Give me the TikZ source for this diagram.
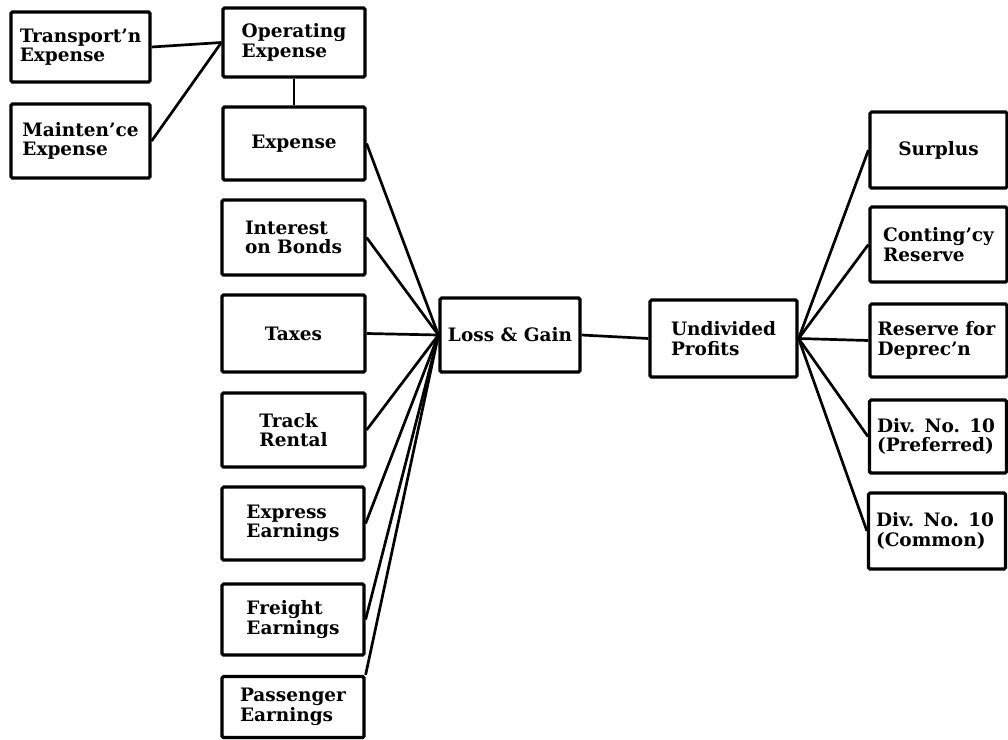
\documentclass[tikz,border=0pt]{standalone}
\usepackage{fontspec}
\setmainfont{DejaVu Serif}
\begin{document}
\begin{tikzpicture}[x=1pt,y=-1pt,
  bx/.style={draw, line width=3.2pt, rounded corners=1.5pt, inner sep=0pt,
    align=left, font=\fontsize{18.5}{19.5}\selectfont\bfseries},
  ln/.style={line width=2.7pt}]
\useasboundingbox (0,0) rectangle (1008,739);
% left column
\node[bx, minimum width=139pt, minimum height=70pt] (tr) at (80.5,47) {\mbox{Transport'n}\\Expense};
\node[bx, minimum width=139pt, minimum height=74pt] (mt) at (80.5,141) {\mbox{Mainten'ce}\\Expense};
\node[bx, minimum width=142pt, minimum height=69pt] (op) at (294,42.5) {Operating\\Expense};
\node[bx, minimum width=142pt, minimum height=73pt] (ex) at (294,143.5) {Expense};
\node[bx, minimum width=143pt, minimum height=75pt] (ib) at (293.5,237.5) {Interest\\on Bonds};
\node[bx, minimum width=143pt, minimum height=77pt] (tx) at (293.5,333.5) {Taxes};
\node[bx, minimum width=143pt, minimum height=74pt] (trk) at (293.5,430) {Track\\Rental};
\node[bx, minimum width=142pt, minimum height=73pt] (exe) at (293,523.5) {Express\\Earnings};
\node[bx, minimum width=142pt, minimum height=71pt] (fr) at (293,619.5) {Freight\\Earnings};
\node[bx, minimum width=142pt, minimum height=61pt] (pa) at (293,707) {Passenger\\Earnings};
% middle
\node[bx, minimum width=140pt, minimum height=74pt] (lg) at (510,335) {\mbox{Loss \& Gain}};
\node[bx, minimum width=147pt, minimum height=77pt] (up) at (723.5,338.5) {Undivided\\Profits};
% right column
\node[bx, minimum width=137pt, minimum height=76pt] (su) at (938.5,150) {Surplus};
\node[bx, minimum width=137pt, minimum height=75pt] (cr) at (938.5,244.5) {\mbox{Conting'cy}\\Reserve};
\node[bx, minimum width=137pt, minimum height=73pt, text width=122pt] (rd) at (938.5,340.5) {\mbox{Reserve for}\\Deprec'n};
\node[bx, minimum width=137pt, minimum height=73pt, text width=122pt] (dp) at (938,436.5) {\mbox{Div. No. 10}\\(Preferred)};
\node[bx, minimum width=137pt, minimum height=76pt, text width=122pt] (dc) at (937,531) {\mbox{Div. No. 10}\\(Common)};
% connectors
\draw[ln] (tr.east) -- (op.west);
\draw[ln] (mt.east) -- (op.west);
\draw[ln] (op.south) -- (ex.north);
\foreach \n in {ex,ib,tx,trk,exe,fr} \draw[ln] (\n.east) -- (lg.west);
\draw[ln] (pa.north east) -- (lg.west);
\draw[ln] (lg.east) -- (up.west);
\foreach \n in {su,cr,rd,dp,dc} \draw[ln] (up.east) -- (\n.west);
\end{tikzpicture}
\end{document}
